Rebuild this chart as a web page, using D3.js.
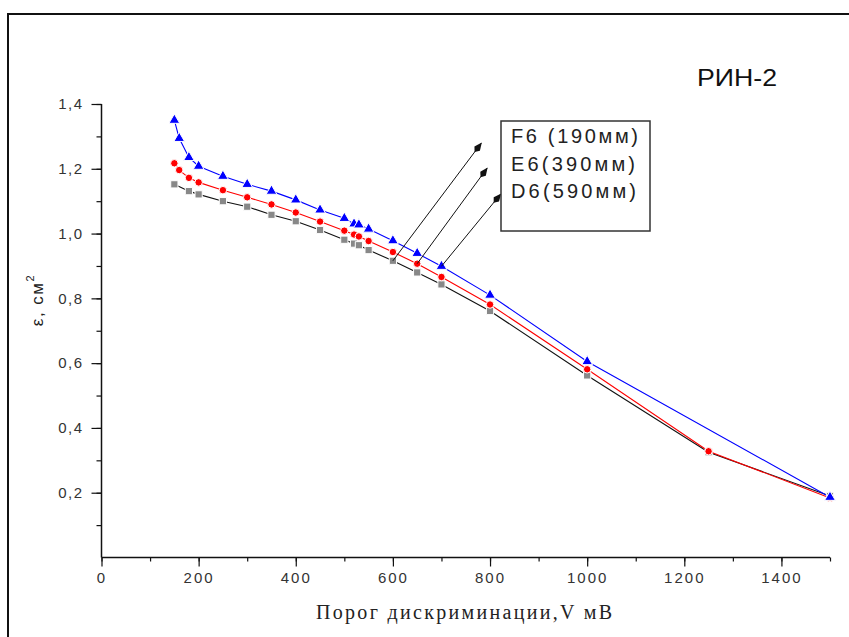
<!DOCTYPE html>
<html>
<head>
<meta charset="utf-8">
<script src="https://cdn.jsdelivr.net/npm/d3@7"></script>
<style>
  body { margin: 0; background: #fff; }
  svg { display: block; }
</style>
</head>
<body>
<div id="chart"></div>
<script>
// threshold values (mV) and efficiency for each counter
const xF6 = [150, 160, 180, 200, 250, 300, 350, 400, 450, 500, 520, 530, 550, 600, 650, 700, 800, 1000, 1500];
const yF6 = [1.350, 1.294, 1.235, 1.208, 1.177, 1.152, 1.131, 1.104, 1.073, 1.047, 1.030, 1.027, 1.014, 0.978, 0.939, 0.899, 0.810, 0.605, 0.186];

const xE6 = [150, 160, 180, 200, 250, 300, 350, 400, 450, 500, 520, 530, 550, 600, 650, 700, 800, 1000, 1250, 1500];
const yE6 = [1.217, 1.196, 1.172, 1.158, 1.134, 1.112, 1.090, 1.065, 1.037, 1.009, 0.997, 0.991, 0.977, 0.943, 0.907, 0.866, 0.781, 0.581, 0.328, 0.184];

const xD6 = [150, 180, 200, 250, 300, 350, 400, 450, 500, 520, 530, 550, 600, 650, 700, 800, 1000, 1250, 1500];
const yD6 = [1.152, 1.131, 1.121, 1.100, 1.083, 1.058, 1.038, 1.011, 0.981, 0.969, 0.964, 0.949, 0.916, 0.880, 0.843, 0.761, 0.562, 0.325, 0.190];

const legendLabels = ["F6 (190мм)", "E6(390мм)", "D6(590мм)"];
const xTicks = [0, 200, 400, 600, 800, 1000, 1200, 1400];
const yTicks = [0.2, 0.4, 0.6, 0.8, 1.0, 1.2, 1.4];

// arrows: [from x, from y, to x, to y] in data units
const arrows = [
  [600, 0.916, 782, 1.279],
  [650, 0.907, 794, 1.202],
  [700, 0.899, 822, 1.122]
];

const width = 849;
const height = 637;

const x = d3.scaleLinear().domain([0, 1500]).range([101.5, 830]);
const y = d3.scaleLinear().domain([0, 1.4]).range([557.5, 104]);

const svg = d3.create("svg")
    .attr("width", width)
    .attr("height", height);

// outer frame
svg.append("rect")
    .attr("x", 8).attr("y", 14)
    .attr("width", 850).attr("height", 650)
    .attr("fill", "none")
    .attr("stroke", "#111")
    .attr("stroke-width", 2);

// x axis
const xAxis = svg.append("g")
    .attr("transform", `translate(0,${y(0)})`);
xAxis.call(d3.axisBottom(x).tickValues(d3.range(0, 1501, 100)).tickSize(4).tickFormat(""))
    .call(g => g.select(".domain").remove());
xAxis.append("g")
    .call(d3.axisBottom(x).tickValues(xTicks).tickSize(9).tickPadding(6).tickFormat(d3.format("d")))
    .call(g => g.select(".domain").remove())
    .call(g => g.selectAll("text")
        .attr("fill", "#333")
        .style("font", "15px 'Liberation Sans', Arial, sans-serif")
        .style("letter-spacing", "2px"));
xAxis.append("line")
    .attr("x1", x(0)).attr("x2", x(1500))
    .attr("stroke", "#111").attr("stroke-width", 1.5);
xAxis.selectAll(".tick line").attr("stroke", "#111").attr("stroke-width", 1.2);

// y axis
const yAxis = svg.append("g")
    .attr("transform", `translate(${x(0)},0)`);
yAxis.call(d3.axisLeft(y).tickValues(d3.range(1, 15).map(d => d / 10)).tickSize(5).tickFormat(""))
    .call(g => g.select(".domain").remove());
yAxis.append("g")
    .call(d3.axisLeft(y).tickValues(yTicks).tickSize(10).tickPadding(8)
        .tickFormat(d => d3.format(".1f")(d).replace(".", ",")))
    .call(g => g.select(".domain").remove())
    .call(g => g.selectAll("text")
        .attr("fill", "#333")
        .style("font", "15px 'Liberation Sans', Arial, sans-serif")
        .style("letter-spacing", "1.5px"));
yAxis.append("line")
    .attr("y1", y(0)).attr("y2", y(1.4))
    .attr("stroke", "#111").attr("stroke-width", 1.5);
yAxis.selectAll(".tick line").attr("stroke", "#111").attr("stroke-width", 1.2);

// axis titles
svg.append("text")
    .attr("x", 316).attr("y", 619)
    .attr("textLength", 296)
    .attr("lengthAdjust", "spacing")
    .attr("fill", "#222")
    .style("font", "20px 'Liberation Serif', 'Times New Roman', serif")
    .text("Порог дискриминации,V мВ");

const yTitle = svg.append("text")
    .attr("transform", "translate(43,300) rotate(-90)")
    .attr("text-anchor", "middle")
    .attr("fill", "#222")
    .style("font", "17px 'Liberation Sans', Arial, sans-serif")
    .style("letter-spacing", "1.5px");
yTitle.append("tspan").text("ε, см");
yTitle.append("tspan").attr("dy", -9).style("font-size", "11px").text("2");

// chart title
svg.append("text")
    .attr("x", 697).attr("y", 86)
    .attr("textLength", 80)
    .attr("lengthAdjust", "spacingAndGlyphs")
    .attr("fill", "#111")
    .style("font", "24px 'Liberation Sans', Arial, sans-serif")
    .text("РИН-2");

// series
const series = [
  { xs: xD6, ys: yD6, line: "#111", fill: "#888", shape: d3.symbolSquare, size: 52 },
  { xs: xE6, ys: yE6, line: "#ff0000", fill: "#ff0000", shape: d3.symbolCircle, size: 44 },
  { xs: xF6, ys: yF6, line: "#0000ff", fill: "#0000ff", shape: d3.symbolTriangle, size: 50 }
];

const line = d3.line()
    .x(d => x(d[0]))
    .y(d => y(d[1]));

series.forEach(s => {
  const pts = s.xs.map((v, i) => [v, s.ys[i]]);
  svg.append("path")
      .attr("fill", "none")
      .attr("stroke", s.line)
      .attr("stroke-width", 1.1)
      .attr("d", line(pts));
});

series.forEach(s => {
  const pts = s.xs.map((v, i) => [v, s.ys[i]]);
  svg.append("g")
    .selectAll("path")
    .data(pts)
    .join("path")
      .attr("transform", d => `translate(${x(d[0])},${y(d[1])})`)
      .attr("d", d3.symbol(s.shape, s.size))
      .attr("fill", s.fill)
      .attr("stroke", "#fff")
      .attr("stroke-width", 1);
});

// arrows
svg.append("defs").append("marker")
    .attr("id", "head")
    .attr("viewBox", "0 -5 14 10")
    .attr("refX", 13).attr("refY", 0)
    .attr("markerWidth", 12).attr("markerHeight", 9)
    .attr("markerUnits", "userSpaceOnUse")
    .attr("orient", "auto")
  .append("path")
    .attr("d", "M0,0L5,-4L14,0L5,4Z")
    .attr("fill", "#111");

svg.append("g")
  .selectAll("line")
  .data(arrows)
  .join("line")
    .attr("x1", d => x(d[0])).attr("y1", d => y(d[1]))
    .attr("x2", d => x(d[2])).attr("y2", d => y(d[3]))
    .attr("stroke", "#111")
    .attr("stroke-width", 1)
    .attr("marker-end", "url(#head)");

// legend box
svg.append("rect")
    .attr("x", 501).attr("y", 121)
    .attr("width", 149).attr("height", 110)
    .attr("fill", "#fff")
    .attr("stroke", "#333")
    .attr("stroke-width", 1.5);

svg.append("g")
  .selectAll("text")
  .data(legendLabels)
  .join("text")
    .attr("x", 511)
    .attr("y", (d, i) => 143 + i * 27.5)
    .attr("textLength", (d, i) => [127, 124, 125][i])
    .attr("lengthAdjust", "spacing")
    .attr("fill", "#222")
    .style("font", "20px 'Liberation Sans', Arial, sans-serif")
    .text(d => d);

document.getElementById("chart").append(svg.node());
</script>
</body>
</html>
